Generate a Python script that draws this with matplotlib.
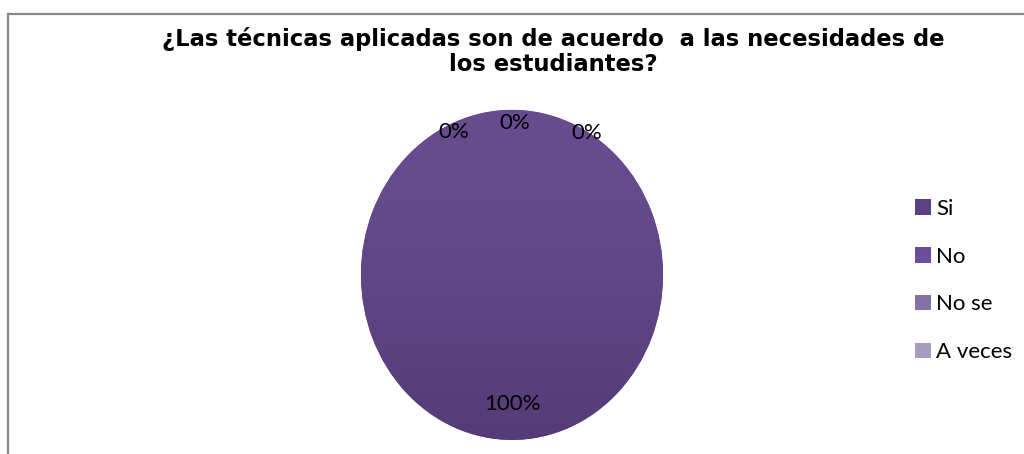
import matplotlib
matplotlib.use('Agg')
import matplotlib.pyplot as plt
from matplotlib.lines import Line2D
from matplotlib.colors import LinearSegmentedColormap
import numpy as np

plt.rcParams['font.family'] = ['Lato', 'DejaVu Sans']

# Data
categories = ['Si', 'No', 'No se', 'A veces']
values = [100, 0, 0, 0]
colors = ['#5b4083', '#6b4d9b', '#8670a8', '#a69cbc']
title = '¿Las técnicas aplicadas son de acuerdo  a las necesidades de\nlos estudiantes?'

fig = plt.figure(figsize=(10.24, 4.54), dpi=100)

# chart frame (only top/left visible in the crop)
fig.add_artist(Line2D([0.0083, 0.0083], [0, 0.970], color='#888888', lw=1.6))
fig.add_artist(Line2D([0.0083, 1.0], [0.970, 0.970], color='#888888', lw=1.6))

fig.text(0.54, 0.887, title, ha='center', va='center', fontsize=16.3,
         fontweight='bold', family='DejaVu Sans', linespacing=1.12)

ax = fig.add_axes([0.3525, 0.031, 0.295, 0.727])
wedges, texts, autotexts = ax.pie(values, colors=colors, startangle=90, counterclock=False,
                                  autopct='%1.0f%%', pctdistance=0.78,
                                  wedgeprops=dict(linewidth=0),
                                  textprops=dict(fontsize=16, color='black'))
ax.set_aspect('auto')

# soft vertical shading on the full slice
shade = LinearSegmentedColormap.from_list('shade', ['#553b77', '#614688', '#684d90'])
grad = np.linspace(0, 1, 256).reshape(-1, 1)
im = ax.imshow(grad, extent=(-1, 1, -1, 1), origin='lower', cmap=shade,
               aspect='auto', zorder=1.5)
im.set_clip_path(wedges[0])
ax.set_xlim(-1, 1)
ax.set_ylim(-1, 1)
for t in autotexts:
    t.set_zorder(3)

# spread the zero labels along the top like the original
label_ang = [None, 114, 89, 60]
label_r = [None, 0.945, 0.92, 0.995]
for t, a, r, v in zip(autotexts, label_ang, label_r, values):
    if v == 0:
        ang = np.deg2rad(a)
        t.set_position((r * np.cos(ang), r * np.sin(ang)))
        t.set_ha('center')
        t.set_va('center')

leg = fig.legend(wedges, categories, loc='center left', bbox_to_anchor=(0.874, 0.382),
                 frameon=False, fontsize=16, handlelength=0.7, handleheight=0.7,
                 handletextpad=0.25, labelspacing=1.25)

fig.savefig('out.png', dpi=100)
